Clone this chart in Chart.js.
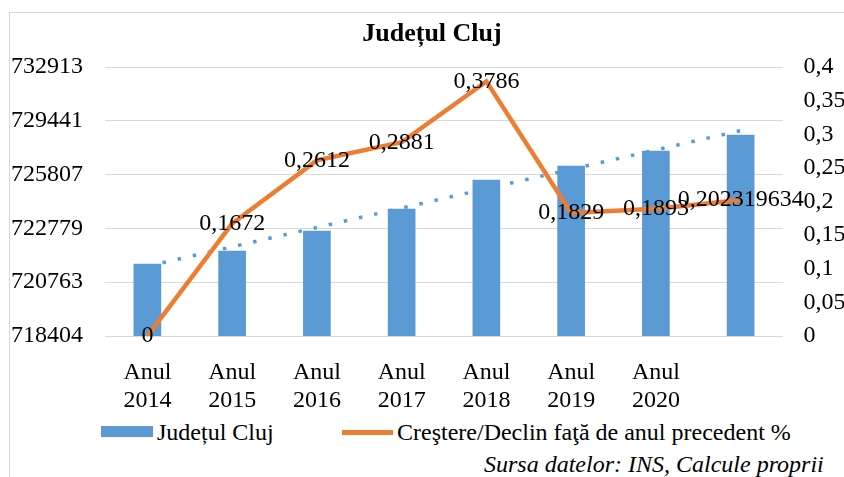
<!DOCTYPE html>
<html>
<head>
<meta charset="utf-8">
<script src="https://cdn.jsdelivr.net/npm/chart.js@4/dist/chart.umd.min.js"></script>
<style>
  html, body { margin: 0; padding: 0; background: #fff; }
  #wrap { position: relative; width: 844px; height: 477px; overflow: hidden; font-family: "Liberation Serif", "Times New Roman", serif; color: #000; }
  #frame { position: absolute; left: 9px; top: 12px; width: 900px; height: 500px; border: 1px solid #d9d9d9; box-sizing: border-box; }
  #chart { position: absolute; left: 0; top: 0; }
  .txt { position: absolute; white-space: nowrap; font-size: 24px; line-height: 30px; }
  #title { left: 432px; top: 18px; transform: translateX(-50%); font-weight: bold; font-size: 26px; }
  .box { position: absolute; }
</style>
</head>
<body>
<div id="wrap">
  <div id="frame"></div>
  <canvas id="chart" width="844" height="410"></canvas>
  <div id="title" class="txt">Județul Cluj</div>
  <div class="box" style="left:101px;top:426px;width:52px;height:11px;background:#5B9BD5"></div>
  <div class="txt" id="leg1" style="left:157px;top:417px">Județul Cluj</div>
  <div class="box" style="left:342px;top:430px;width:51px;height:4.5px;background:#ED7D31"></div>
  <div class="txt" id="leg2" style="left:397px;top:417px">Creştere/Declin faţă de anul precedent %</div>
  <div class="txt" id="src" style="left:484px;top:449px;font-style:italic">Sursa datelor: INS, Calcule proprii</div>
</div>
<script>
const categories = ['Anul 2014','Anul 2015','Anul 2016','Anul 2017','Anul 2018','Anul 2019','Anul 2020',''];
const populationValues = [722287, 722989, 724067, 725254, 726818, 727573, 728382, 729245];
const growthValues = [0, 0.1672, 0.2612, 0.2881, 0.3786, 0.1829, 0.1893, 0.202319634];
const leftTickLabels = ['718404','720763','722779','725807','729441','732913'];
const rightTickValues = [0, 0.05, 0.1, 0.15, 0.2, 0.25, 0.3, 0.35, 0.4];

const BLUE = '#5B9BD5', ORANGE = '#ED7D31', GRID = '#d9d9d9';
const FONT = { family: '"Liberation Serif", "Times New Roman", serif', size: 24 };

// linear trendline (least squares) of the bar series, like Excel's trendline
const n = populationValues.length;
const mx = (n - 1) / 2;
const my = populationValues.reduce((a, b) => a + b, 0) / n;
let sxy = 0, sxx = 0;
populationValues.forEach((v, i) => { sxy += (i - mx) * (v - my); sxx += (i - mx) * (i - mx); });
const slope = sxy / sxx;
const trendValues = populationValues.map((_, i) => my + slope * (i - mx));

const leftMin = Number(leftTickLabels[0]);
const leftMax = Number(leftTickLabels[leftTickLabels.length - 1]);

const fmt = v => String(v).replace('.', ',');

const labelPlugin = {
  id: 'lineLabels',
  afterDatasetsDraw(chart) {
    const meta = chart.getDatasetMeta(0);
    const ctx = chart.ctx;
    ctx.save();
    ctx.font = '24px "Liberation Serif", "Times New Roman", serif';
    ctx.fillStyle = '#000';
    ctx.textAlign = 'center';
    ctx.textBaseline = 'middle';
    meta.data.forEach((pt, i) => {
      ctx.fillText(fmt(growthValues[i]), pt.x, pt.y);
    });
    ctx.restore();
  }
};

new Chart(document.getElementById('chart'), {
  data: {
    labels: categories.map(c => c ? c.split(' ') : ''),
    datasets: [
      {
        type: 'line',
        label: 'Creştere/Declin faţă de anul precedent %',
        data: growthValues,
        yAxisID: 'y1',
        borderColor: ORANGE,
        borderWidth: 4.5,
        pointRadius: 0,
        tension: 0,
        order: 0,
        borderJoinStyle: 'miter'
      },
      {
        type: 'line',
        label: 'Trend',
        data: trendValues,
        yAxisID: 'y',
        borderColor: BLUE,
        borderWidth: 3.5,
        borderDash: [3.5, 12],
        pointRadius: 0,
        tension: 0,
        order: 1
      },
      {
        type: 'bar',
        label: 'Județul Cluj',
        data: populationValues,
        yAxisID: 'y',
        backgroundColor: BLUE,
        barThickness: 27,
        order: 2
      }
    ]
  },
  options: {
    responsive: false,
    animation: false,
    devicePixelRatio: 1,
    layout: { padding: { top: 67, left: 0, right: 0, bottom: 0 } },
    plugins: { legend: { display: false }, title: { display: false }, tooltip: { enabled: false } },
    scales: {
      x: {
        grid: { display: false },
        border: { display: false },
        ticks: { color: '#000', font: { ...FONT, lineHeight: 28 / 24 }, padding: 15, autoSkip: false, maxRotation: 0 },
        afterFit(s) { s.height = 74; }
      },
      y: {
        position: 'left',
        min: leftMin,
        max: leftMax,
        grid: { color: GRID, lineWidth: 1, drawTicks: false },
        border: { display: false },
        ticks: {
          color: '#000', font: FONT, padding: 22,
          callback: (v, i) => leftTickLabels[i]
        },
        afterBuildTicks(s) {
          s.ticks = leftTickLabels.map((_, i) => ({ value: leftMin + i * (leftMax - leftMin) / (leftTickLabels.length - 1) }));
        },
        afterFit(s) { s.width = 105; }
      },
      y1: {
        position: 'right',
        min: rightTickValues[0],
        max: rightTickValues[rightTickValues.length - 1],
        grid: { display: false, drawTicks: false },
        border: { display: false },
        ticks: {
          color: '#000', font: FONT, padding: 20.5,
          callback: (v, i) => fmt(rightTickValues[i])
        },
        afterBuildTicks(s) {
          s.ticks = rightTickValues.map(v => ({ value: v }));
        },
        afterFit(s) { s.width = 61; }
      }
    }
  },
  plugins: [labelPlugin]
});
</script>
</body>
</html>
